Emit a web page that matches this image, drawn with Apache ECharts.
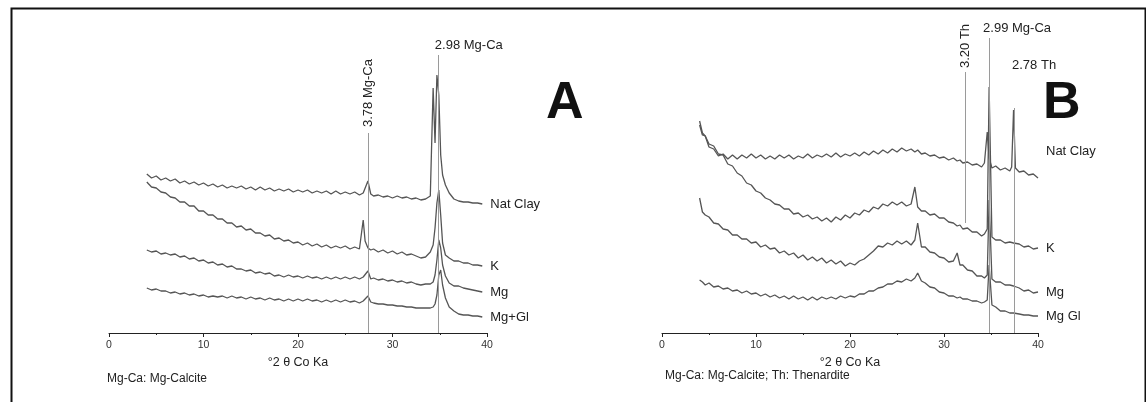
<!DOCTYPE html>
<html><head><meta charset="utf-8">
<script src="https://cdn.jsdelivr.net/npm/echarts/dist/echarts.min.js"></script>
<style>html,body{margin:0;padding:0;background:#fff}#c{width:1146px;height:402px}</style>
</head><body><div id="c"></div><script>
// ---------- DATA ----------
const xTicks = [0, 10, 20, 30, 40];
const xA = [4,4.5,5,5.5,6,6.5,7,7.5,8,8.5,
  9,9.5,10,10.5,11,11.5,12,12.5,13,13.5,
  14,14.5,15,15.5,16,16.5,17,17.5,18,18.5,
  19,19.5,20,20.5,21,21.5,22,22.5,23,23.5,
  24,24.5,25,25.5,26,26.5,26.9,27.1,27.4,27.7,
  28,28.5,29,29.5,30,30.5,31,31.5,32,32.5,
  33,33.5,34,34.3,34.5,34.7,34.9,35.1,35.3,35.6,
  36,36.5,37,37.5,38,38.5,39,39.5];
const natClayA = [159,155,157,153,155,152,154,150,152,149,
  151,148,150,147,149,146,148,145,147,145,
  147,144,146,143,146,143,145,142,144,142,
  144,141,143,141,143,140,142,140,142,139,
  142,139,141,139,141,138,140,142,152,139,
  137,138,136,137,135,137,135,136,134,135,
  133,134,137,245,190,258,238,178,158,148,
  140,134,132,131,131,130,130,129];
const kA = [151,146,145,141,140,136,135,131,131,127,
  127,122,122,118,118,114,114,110,110,106,
  107,103,104,100,100,97,98,94,95,92,
  93,90,91,88,90,87,89,86,88,85,
  87,85,87,84,86,84,113,92,85,83,
  84,81,83,80,82,79,81,78,79,77,
  75,76,81,88,105,130,143,118,90,78,
  75,72,72,70,70,68,68,67];
const mgA = [83,81,82,79,80,78,79,76,77,74,
  75,72,73,70,71,68,69,66,67,64,
  64,62,63,60,61,59,60,57,58,56,
  58,56,57,55,57,55,56,54,56,54,
  56,54,56,54,56,54,56,55,62,54,
  55,53,54,52,53,51,52,50,51,49,
  48,49,49,51,58,73,93,85,68,57,
  50,47,47,45,44,43,42,41];
const mgGlA = [45,43,44,42,42,40,41,39,40,38,
  39,37,38,36,37,36,37,35,37,35,
  36,34,36,34,35,33,35,33,34,32,
  34,32,34,32,34,32,33,31,33,31,
  33,31,33,31,32,30,32,31,37,31,
  30,29,29,28,28,27,27,26,26,25,
  25,25,25,26,29,38,58,63,48,35,
  26,22,19,18,18,17,17,16];

const xB = [4,4.3,4.6,5,5.5,6,6.5,7,7.5,8,
  8.5,9,9.5,10,10.5,11,11.5,12,12.5,13,
  13.5,14,14.5,15,15.5,16,16.5,17,17.5,18,
  18.5,19,19.5,20,20.5,21,21.5,22,22.5,23,
  23.5,24,24.5,25,25.5,26,26.5,26.9,27.2,27.6,
  28,28.5,29,29.5,30,30.5,31,31.4,31.7,32,
  32.5,33,33.5,34,34.3,34.6,34.8,35.1,35.5,36,
  36.5,37,37.2,37.4,37.6,38,38.5,39,39.5,40];
const natClayB = [212,200,197,186,184,177,179,174,178,174,
  178,175,179,175,178,174,177,174,178,175,
  178,174,177,175,179,175,178,176,179,176,
  180,176,179,177,180,177,181,178,182,179,
  183,180,184,181,185,182,184,181,183,179,
  180,177,178,175,176,173,175,172,173,170,
  171,168,169,166,170,201,175,165,167,163,
  165,162,166,223,165,161,162,158,159,155];
const kB = [208,198,197,189,187,179,178,169,167,160,
  157,150,148,142,140,135,133,129,128,124,
  124,119,120,116,118,114,116,112,115,111,
  116,113,118,115,120,118,123,121,126,124,
  129,127,131,128,131,127,129,146,126,122,
  122,118,119,115,115,111,110,107,108,104,
  105,101,101,97,99,104,246,96,93,93,
  90,91,89,90,88,89,86,87,84,85];
const mgB = [135,121,118,116,110,109,104,103,98,98,
  94,94,90,91,86,88,84,85,80,82,
  78,80,75,78,73,76,72,75,70,73,
  69,72,67,70,68,72,74,78,82,87,
  86,90,88,92,89,92,88,93,110,86,
  86,81,80,76,75,71,72,80,68,68,
  63,62,57,57,55,58,133,54,51,51,
  48,48,46,47,45,45,42,43,40,41];
const mgGlB = [53,51,48,50,46,47,44,45,42,43,
  40,42,39,40,37,39,36,38,35,37,
  34,37,34,36,33,36,33,36,34,36,
  34,37,35,37,36,39,39,42,42,45,
  46,49,49,52,51,54,52,55,60,52,
  50,46,45,41,40,37,37,35,36,34,
  34,32,32,30,31,33,68,28,26,22,
  22,20,21,20,19,19,18,18,17,17];

const seriesNamesA = ['Nat Clay', 'K', 'Mg', 'Mg+Gl'];
const seriesNamesB = ['Nat Clay', 'K', 'Mg', 'Mg Gl'];

// reference lines: position (°2θ), bottom and top intensity, label
const peaksA = [27.4, 34.8];
const peakBottomA = [0, 0];
const peakTopA = [200, 278];
const peakLabelsA = ['3.78 Mg-Ca', '2.98 Mg-Ca'];
const peaksB = [32.3, 34.8, 37.45];
const peakBottomB = [110, 0, 0];
const peakTopB = [261, 295, 225];
const peakLabelsB = ['3.20 Th', '2.99 Mg-Ca', '2.78 Th'];

const axisTitle = '°2 θ Co Ka';
const panelLetters = ['A', 'B'];
const footnotes = ['Mg-Ca: Mg-Calcite', 'Mg-Ca: Mg-Calcite; Th: Thenardite'];

// ---------- CHART ----------
const FONT = '"Liberation Sans", Arial, Helvetica, sans-serif';
const chart = echarts.init(document.getElementById('c'), null, {renderer: 'canvas'});

function xAxisCfg(g) {
  return {
    type: 'value', gridIndex: g, min: xTicks[0], max: xTicks[xTicks.length - 1], interval: 10,
    name: axisTitle, nameLocation: 'middle', nameGap: 22,
    nameTextStyle: {fontSize: 12.5, color: '#222', fontFamily: FONT},
    axisLine: {show: true, lineStyle: {color: '#222', width: 1}},
    axisTick: {show: true, length: 4, lineStyle: {color: '#222', width: 1}},
    minorTick: {show: true, splitNumber: 2, length: 2, lineStyle: {color: '#222'}},
    splitLine: {show: false},
    axisLabel: {fontSize: 10.5, color: '#333', margin: 7, fontFamily: FONT}
  };
}
function yAxisCfg(g) {
  return {type: 'value', gridIndex: g, min: 0, max: 300, show: false};
}
function trace(name, xs, ys, g, labelOffset, markLine) {
  const s = {
    type: 'line', name: name, xAxisIndex: g, yAxisIndex: g,
    data: xs.map((x, i) => [x, ys[i]]),
    showSymbol: false, symbol: 'none', silent: true,
    lineStyle: {color: '#555', width: 1.3},
    endLabel: {show: true, formatter: name, distance: 8, offset: labelOffset || [0, 0],
      fontSize: 13, color: '#222', fontFamily: FONT}
  };
  if (markLine) s.markLine = markLine;
  return s;
}
function refLines(pos, bot, top) {
  return {
    silent: true, symbol: ['none', 'none'], label: {show: false},
    lineStyle: {color: '#9a9a9a', width: 1, type: 'solid'},
    data: pos.map((p, i) => [{coord: [p, bot[i]]}, {coord: [p, top[i]]}])
  };
}

const option = {
  animation: false,
  backgroundColor: '#fff',
  grid: [
    {left: 109, right: 1146 - 487, top: 33, bottom: 69},
    {left: 662, right: 1146 - 1038, top: 33, bottom: 69}
  ],
  xAxis: [xAxisCfg(0), xAxisCfg(1)],
  yAxis: [yAxisCfg(0), yAxisCfg(1)],
  series: [
    trace(seriesNamesA[0], xA, natClayA, 0, null, refLines(peaksA, peakBottomA, peakTopA)),
    trace(seriesNamesA[1], xA, kA, 0),
    trace(seriesNamesA[2], xA, mgA, 0),
    trace(seriesNamesA[3], xA, mgGlA, 0),
    trace(seriesNamesB[0], xB, natClayB, 1, [0, -27], refLines(peaksB, peakBottomB, peakTopB)),
    trace(seriesNamesB[1], xB, kB, 1),
    trace(seriesNamesB[2], xB, mgB, 1),
    trace(seriesNamesB[3], xB, mgGlB, 1)
  ]
};
chart.setOption(option);

// annotation text placed through the chart's own scales
const px = (g, x, y) => chart.convertToPixel({gridIndex: g}, [x, y]);
// layout per label: rotated?, dx, dy relative to the top end of its line
const layoutA = [{rot: true, dx: 0, dy: -6}, {rot: false, dx: -3, dy: -3}];
const layoutB = [{rot: true, dx: 0, dy: -4}, {rot: false, dx: -6, dy: -3}, {rot: false, dx: -2, dy: -36}];
const graphics = [];
function addLabels(g, pos, top, labels, layout) {
  pos.forEach((p, i) => {
    const pt = px(g, p, top[i]);
    const L = layout[i];
    if (L.rot) {
      graphics.push({type: 'text', x: pt[0] + L.dx, y: pt[1] + L.dy, rotation: Math.PI / 2,
        style: {text: labels[i], fontSize: 13, fill: '#222', fontFamily: FONT, align: 'left', verticalAlign: 'middle'}});
    } else {
      graphics.push({type: 'text', x: pt[0] + L.dx, y: pt[1] + L.dy,
        style: {text: labels[i], fontSize: 13, fill: '#222', fontFamily: FONT, align: 'left', verticalAlign: 'bottom'}});
    }
  });
}
addLabels(0, peaksA, peakTopA, peakLabelsA, layoutA);
addLabels(1, peaksB, peakTopB, peakLabelsB, layoutB);

// panel letters
graphics.push({type: 'text', left: 546, top: 78, style: {text: panelLetters[0], fontSize: 52, fontWeight: 'bold', fill: '#111', fontFamily: FONT}});
graphics.push({type: 'text', left: 1043, top: 78, style: {text: panelLetters[1], fontSize: 52, fontWeight: 'bold', fill: '#111', fontFamily: FONT}});
// footnotes
graphics.push({type: 'text', left: 107, top: 373, style: {text: footnotes[0], fontSize: 12, fill: '#222', fontFamily: FONT}});
graphics.push({type: 'text', left: 665, top: 370, style: {text: footnotes[1], fontSize: 12, fill: '#222', fontFamily: FONT}});
// frame
graphics.push({type: 'rect', left: 9, top: 6, shape: {width: 1134, height: 420}, style: {fill: 'none', stroke: '#111', lineWidth: 2}, z: 100});

chart.setOption({graphic: graphics});
</script></body></html>
